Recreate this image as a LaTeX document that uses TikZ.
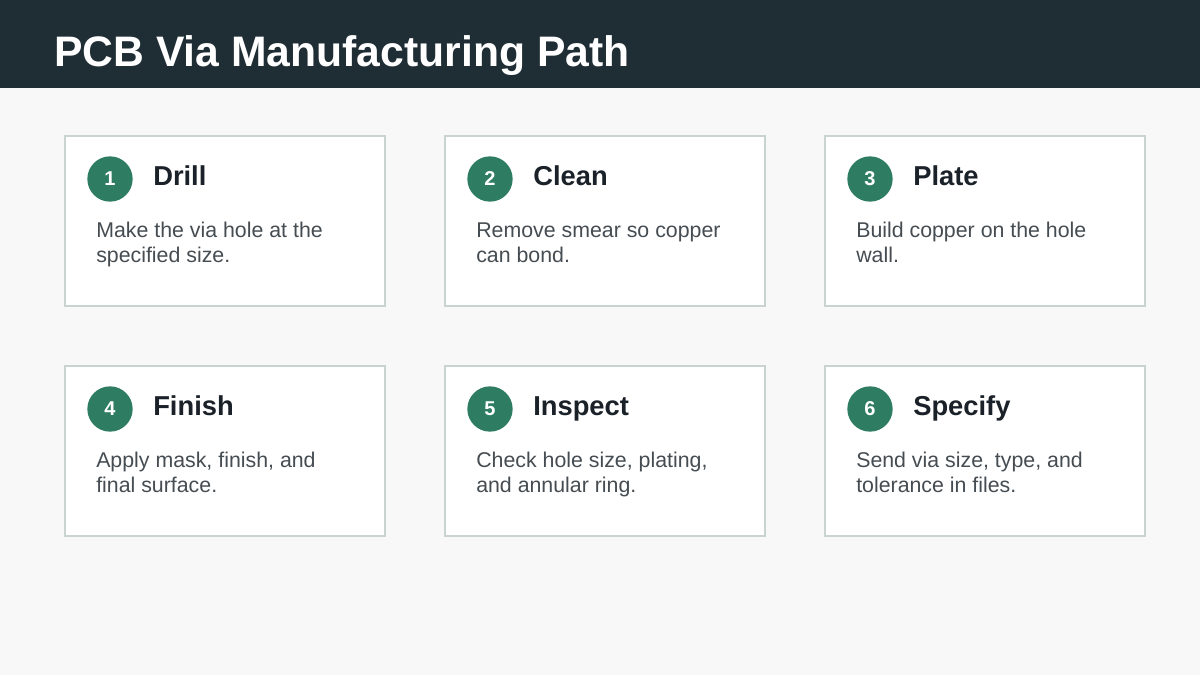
\documentclass[tikz,border=0pt]{standalone}
\usepackage{fontspec}
\setmainfont{Liberation Sans}
\definecolor{headbg}{HTML}{1F2D35}
\definecolor{pagebg}{HTML}{F8F8F8}
\definecolor{cardline}{HTML}{C9D4D1}
\definecolor{badgegreen}{HTML}{2E7D62}
\definecolor{steptext}{HTML}{1B2128}
\definecolor{desctext}{HTML}{454C52}
\tikzset{
  card/.style={draw=cardline, line width=1.5pt, fill=white, inner sep=0pt,
    minimum width=240pt, minimum height=127.5pt, anchor=north west},
  badge/.style={circle, fill=badgegreen, text=white, inner sep=0pt,
    minimum size=34pt, font=\fontsize{15pt}{18pt}\selectfont\bfseries},
  steptitle/.style={anchor=base west, inner sep=0pt, text=steptext,
    font=\fontsize{20.5pt}{24pt}\selectfont\bfseries},
  stepdesc/.style={anchor=base west, inner sep=0pt, text=desctext, align=left,
    font=\fontsize{16pt}{18.75pt}\selectfont}
}
\begin{document}
\begin{tikzpicture}[x=0.75pt,y=-0.75pt]
  \fill[pagebg] (0,0) rectangle (1200,675);
  \fill[headbg] (0,0) rectangle (1200,88);
  \node[anchor=base west, inner sep=0pt, text=white,
    font=\fontsize{32pt}{38pt}\selectfont\bfseries] (title) at (54,66)
    {PCB Via Manufacturing Path};
  % six step cards, two rows of three
  \foreach \i/\cx/\cy/\name/\desc in {
      1/64/135/Drill/{Make the via hole at the\\specified size.},
      2/444/135/Clean/{Remove smear so copper\\can bond.},
      3/824/135/Plate/{Build copper on the hole\\wall.},
      4/64/365/Finish/{Apply mask, finish, and\\final surface.},
      5/444/365/Inspect/{Check hole size, plating,\\and annular ring.},
      6/824/365/Specify/{Send via size, type, and\\tolerance in files.}} {
    \node[card] (card\i) at (\cx,\cy) {};
    \node[badge] (num\i) at ([xshift=34.5pt,yshift=-33pt]card\i.north west) {\i};
    \node[steptitle] (name\i) at ([xshift=66.75pt,yshift=-37.5pt]card\i.north west) {\name};
    \node[stepdesc] (desc\i) at ([xshift=24pt,yshift=-95.25pt]card\i.north west) {\desc};
  }
\end{tikzpicture}
\end{document}
